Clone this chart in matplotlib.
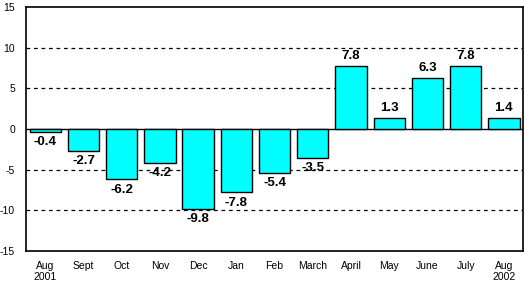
import matplotlib
matplotlib.use('Agg')
import matplotlib.pyplot as plt

months = ['Aug\n2001', 'Sept', 'Oct', 'Nov', 'Dec', 'Jan', 'Feb', 'March',
          'April', 'May', 'June', 'July', 'Aug\n2002']
values = [-0.4, -2.7, -6.2, -4.2, -9.8, -7.8, -5.4, -3.5, 7.8, 1.3, 6.3, 7.8, 1.4]
yticks = [-15, -10, -5, 0, 5, 10, 15]

plt.rcParams['font.family'] = ['Liberation Sans', 'DejaVu Sans']

fig = plt.figure(figsize=(5.24, 2.83), dpi=100)
ax = fig.add_axes([0.05, 0.113, 0.948, 0.862])

x = list(range(len(values)))
ax.bar(x, values, width=0.82, color='#00ffff', edgecolor='black', linewidth=1.0, zorder=3)

for yv in [-10, -5, 5, 10]:
    ax.axhline(yv, color='black', linestyle=(0, (3, 3)), linewidth=0.9, zorder=1)
ax.axhline(0, color='black', linewidth=1.0, zorder=2)

for xi, v in zip(x, values):
    if v >= 0:
        ax.text(xi, v + 0.5, '%.1f' % v, ha='center', va='bottom', fontsize=9.5, fontweight='bold')
    else:
        ax.text(xi, v - 0.5, '%.1f' % v, ha='center', va='top', fontsize=9.5, fontweight='bold')

ax.set_xlim(-0.5, len(values) - 0.5)
ax.set_ylim(-15, 15)
ax.set_yticks(yticks)
ax.set_yticklabels([str(t) for t in yticks], fontsize=7.5)
ax.set_xticks(x)
ax.set_xticklabels(months, fontsize=7.5)
ax.tick_params(length=0, pad=7)
ax.tick_params(axis='y', pad=8)
for s in ax.spines.values():
    s.set_linewidth(1.2)

fig.savefig('out.png', dpi=100)
